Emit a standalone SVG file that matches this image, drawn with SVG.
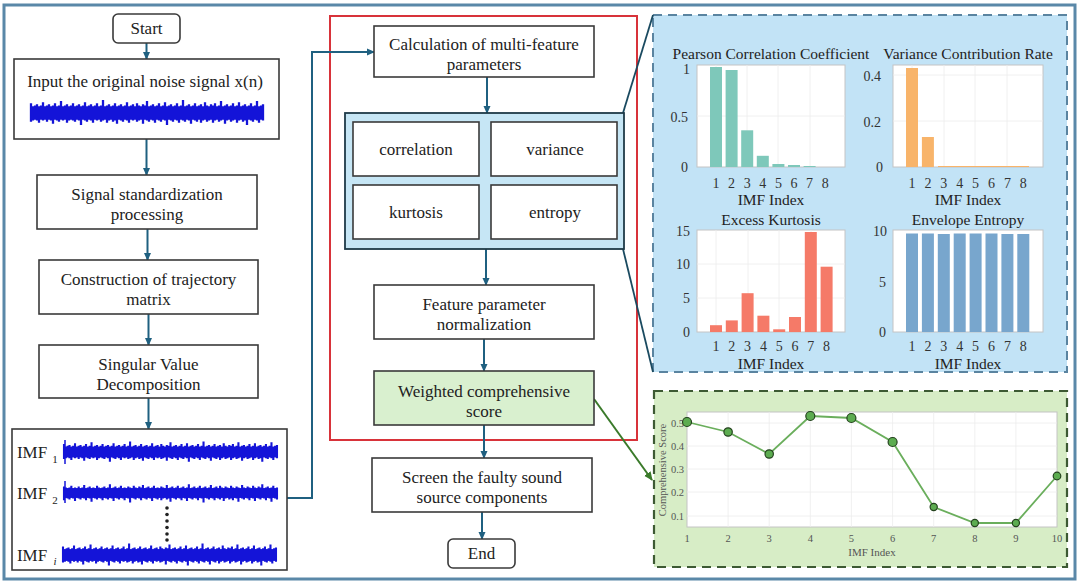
<svg xmlns="http://www.w3.org/2000/svg" width="1080" height="585" viewBox="0 0 1080 585">
<style>
.box{fill:#fff;stroke:#3a3a3a;stroke-width:1.6}
.t{font-family:"Liberation Serif","Times New Roman",serif;font-size:17px;fill:#222;text-anchor:middle}
.conn{stroke:#1f6080;stroke-width:2;fill:none}
.ct{font-family:"Liberation Serif","Times New Roman",serif;font-size:15.5px;fill:#222;text-anchor:middle}
.tk{font-family:"Liberation Serif","Times New Roman",serif;font-size:14px;fill:#333;text-anchor:end}
.tx{font-family:"Liberation Serif","Times New Roman",serif;font-size:14px;fill:#333;text-anchor:middle}
.gt{font-family:"Liberation Serif","Times New Roman",serif;font-size:10.5px;fill:#555}
.plot{fill:#fff;stroke:#c4c4c4;stroke-width:1}
.grid{stroke:#ececec;stroke-width:0.8}
.wave{stroke:#1414d8;stroke-width:2.3;fill:none}
</style>
<defs>
<marker id="arr" markerWidth="8" markerHeight="8" refX="7" refY="4" orient="auto" markerUnits="userSpaceOnUse"><path d="M0,0.5 L8,4 L0,7.5 z" fill="#1f6080"/></marker>
<marker id="garr" markerWidth="9" markerHeight="9" refX="8" refY="4.5" orient="auto" markerUnits="userSpaceOnUse"><path d="M0,0.5 L9,4.5 L0,8.5 z" fill="#3a7a2a"/></marker>
<g id="wave">
<rect x="0" y="-6" width="233" height="12" fill="#1414d8"/>
<path class="wave" d="M0 -9v17M2 -6v13M4 -7v13M6 -8v15M8 -6v15M10 -7v13M12 -10v17M14 -6v12M16 -7v15M18 -8v14M20 -6v13M22 -7v17M24 -9v15M26 -6v13M28 -7v15M30 -11v17M32 -6v13M34 -7v13M36 -8v17M38 -6v13M40 -7v13M42 -9v16M44 -6v14M46 -7v13M48 -8v15M50 -6v17M52 -7v13M54 -10v17M56 -6v14M58 -7v13M60 -8v15M62 -6v15M64 -7v13M66 -9v16M68 -6v12M70 -7v15M72 -12v19M74 -6v12M76 -7v16M78 -8v15M80 -6v12M82 -7v15M84 -9v16M86 -6v16M88 -7v13M90 -8v15M92 -6v14M94 -7v13M96 -10v17M98 -6v15M100 -7v13M102 -8v15M104 -6v12M106 -9v17M108 -7v14M110 -6v12M112 -8v18M114 -7v13M116 -11v18M118 -6v14M120 -7v13M122 -8v15M124 -6v15M126 -7v13M128 -9v16M130 -6v14M132 -7v13M134 -10v17M136 -6v17M138 -7v13M140 -8v15M142 -6v14M144 -7v13M146 -9v16M148 -6v15M150 -7v13M152 -12v19M154 -6v14M156 -7v13M158 -8v15M160 -6v16M162 -7v13M164 -9v16M166 -6v14M168 -7v13M170 -8v17M172 -6v13M174 -10v16M176 -7v15M178 -6v13M180 -8v14M182 -7v16M184 -9v16M186 -6v12M188 -7v15M190 -11v18M192 -6v12M194 -7v17M196 -8v15M198 -6v12M200 -7v15M202 -9v16M204 -6v12M206 -7v16M208 -10v17M210 -6v12M212 -7v15M214 -8v15M216 -6v17M218 -7v13M220 -9v16M222 -6v14M224 -7v13M226 -11v18M228 -6v15M230 -7v13M232 -8v15"/>
</g>
</defs>

<rect id="frame" x="4" y="5" width="1071" height="574" fill="#fff" stroke="#5a88a8" stroke-width="3"/>

<!-- red container -->
<rect id="redbox" x="330" y="16" width="307" height="424" fill="none" stroke="#d8333a" stroke-width="2"/>

<!-- right panels -->
<g id="bluepanel">
<rect x="653" y="15" width="414" height="357" fill="#c2e3f6" stroke="#5a84a0" stroke-width="2" stroke-dasharray="9,6"/>
</g>
<g id="greenpanel">
<rect x="654" y="391" width="413" height="176" fill="#d7edc6" stroke="#3d5a33" stroke-width="2.2" stroke-dasharray="9,6"/>
</g>

<!-- connectors -->
<g id="connectors">
<line class="conn" x1="146.5" y1="43" x2="146.5" y2="59" marker-end="url(#arr)"/>
<line class="conn" x1="146.5" y1="139" x2="146.5" y2="175" marker-end="url(#arr)"/>
<line class="conn" x1="147.5" y1="229" x2="147.5" y2="260" marker-end="url(#arr)"/>
<line class="conn" x1="148.5" y1="314" x2="148.5" y2="345" marker-end="url(#arr)"/>
<line class="conn" x1="148.5" y1="398" x2="148.5" y2="429" marker-end="url(#arr)"/>
<polyline class="conn" points="287,498 312,498 312,52 374,52" marker-end="url(#arr)"/>
<line class="conn" x1="487" y1="77" x2="487" y2="113" marker-end="url(#arr)"/>
<line class="conn" x1="486" y1="249" x2="486" y2="285" marker-end="url(#arr)"/>
<line class="conn" x1="484" y1="339" x2="484" y2="371" marker-end="url(#arr)"/>
<line class="conn" x1="484" y1="425" x2="484" y2="458" marker-end="url(#arr)"/>
<line class="conn" x1="482" y1="512" x2="482" y2="539" marker-end="url(#arr)"/>
<line x1="623" y1="113" x2="653" y2="15" stroke="#1a4a60" stroke-width="1.8"/>
<line x1="623" y1="249" x2="653" y2="372" stroke="#1a4a60" stroke-width="1.8"/>
<line x1="594" y1="399" x2="652" y2="480" stroke="#3a7a2a" stroke-width="2" marker-end="url(#garr)"/>
</g>

<!-- left column -->
<g id="start">
<rect x="113" y="14" width="67" height="29" rx="5" class="box"/>
<text class="t" x="146.5" y="34">Start</text>
</g>
<g id="input">
<rect x="14" y="59" width="265" height="80" class="box"/>
<text class="t" x="145" y="87">Input the original noise signal x(n)</text>
<use href="#wave" transform="translate(31,113) scale(1,1.08)"/>
</g>
<g id="standardize">
<rect x="37" y="175" width="220" height="54" class="box"/>
<text class="t" x="147" y="200">Signal standardization</text>
<text class="t" x="147" y="220">processing</text>
</g>
<g id="trajectory">
<rect x="39" y="260" width="219" height="54" class="box"/>
<text class="t" x="148.5" y="285">Construction of trajectory</text>
<text class="t" x="148.5" y="305">matrix</text>
</g>
<g id="svd">
<rect x="39" y="345" width="219" height="53" class="box"/>
<text class="t" x="148.5" y="370">Singular Value</text>
<text class="t" x="148.5" y="390">Decomposition</text>
</g>
<g id="imfs">
<rect x="12" y="429" width="275" height="141" class="box"/>
<text class="t" x="32" y="458">IMF</text><text class="t" x="55" y="463" style="font-size:11px">1</text>
<use href="#wave" transform="translate(64,452) scale(0.918,0.88)"/>
<line x1="65" y1="440" x2="65" y2="464" stroke="#1414d8" stroke-width="1.5"/>
<text class="t" x="32" y="499">IMF</text><text class="t" x="55" y="504" style="font-size:11px">2</text>
<use href="#wave" transform="translate(64,493) scale(0.918,-0.8)"/>
<line x1="65" y1="481" x2="65" y2="503" stroke="#1414d8" stroke-width="1.5"/>
<g fill="#222"><circle cx="167" cy="508" r="1.8"/><circle cx="167" cy="514.5" r="1.8"/><circle cx="167" cy="521" r="1.8"/><circle cx="167" cy="527.5" r="1.8"/><circle cx="167" cy="534" r="1.8"/><circle cx="167" cy="540" r="1.8"/></g>
<text class="t" x="32" y="561">IMF</text><text class="t" x="55" y="565" style="font-size:11px;font-style:italic">i</text>
<use href="#wave" transform="translate(63,555) scale(0.918,0.95)"/>
</g>

<!-- middle column -->
<g id="calc">
<rect x="374" y="26" width="220" height="51" class="box"/>
<text class="t" x="484" y="50">Calculation of multi-feature</text>
<text class="t" x="484" y="70">parameters</text>
</g>
<g id="features">
<rect x="345" y="113" width="279" height="136" fill="#c6e6f5" stroke="#1e3a48" stroke-width="1.8"/>
<rect x="353" y="122" width="126" height="54" class="box"/>
<text class="t" x="416" y="155">correlation</text>
<rect x="491" y="122" width="126" height="54" class="box"/>
<text class="t" x="555" y="155">variance</text>
<rect x="353" y="185" width="126" height="54" class="box"/>
<text class="t" x="416" y="218">kurtosis</text>
<rect x="491" y="185" width="126" height="54" class="box"/>
<text class="t" x="555" y="218">entropy</text>
</g>
<g id="normalize">
<rect x="374" y="285" width="220" height="54" class="box"/>
<text class="t" x="484" y="310">Feature parameter</text>
<text class="t" x="484" y="330">normalization</text>
</g>
<g id="weighted">
<rect x="374" y="371" width="220" height="54" class="box" style="fill:#d9f0cf"/>
<text class="t" x="484" y="397">Weighted comprehensive</text>
<text class="t" x="484" y="417">score</text>
</g>
<g id="screen">
<rect x="372" y="458" width="220" height="54" class="box"/>
<text class="t" x="482" y="483">Screen the faulty sound</text>
<text class="t" x="482" y="503">source components</text>
</g>
<g id="end">
<rect x="448" y="539" width="67" height="29" rx="5" class="box"/>
<text class="t" x="481.5" y="559">End</text>
</g>

<!-- chart 1: Pearson -->
<g id="chart-pearson">
<text class="ct" x="771" y="59">Pearson Correlation Coefficient</text>
<rect class="plot" x="697" y="65" width="148" height="102"/>
<g class="grid"><line x1="716" y1="65" x2="716" y2="167"/><line x1="747" y1="65" x2="747" y2="167"/><line x1="778" y1="65" x2="778" y2="167"/><line x1="810" y1="65" x2="810" y2="167"/><line x1="697" y1="116" x2="845" y2="116"/></g>
<g fill="#7ec8ba">
<rect x="710" y="67" width="12" height="100"/><rect x="725.6" y="70" width="12" height="97"/><rect x="741.2" y="130.3" width="12" height="36.7"/><rect x="756.8" y="155.8" width="12" height="11.2"/><rect x="772.4" y="164" width="12" height="3"/><rect x="788" y="165" width="12" height="2"/><rect x="803.6" y="166" width="12" height="1"/>
</g>
<text class="tk" x="690" y="74">1</text><text class="tk" x="688" y="122">0.5</text><text class="tk" x="688" y="172">0</text>
<text class="tx" x="716" y="188">1</text><text class="tx" x="731.6" y="188">2</text><text class="tx" x="747.2" y="188">3</text><text class="tx" x="762.8" y="188">4</text><text class="tx" x="778.4" y="188">5</text><text class="tx" x="794" y="188">6</text><text class="tx" x="809.6" y="188">7</text><text class="tx" x="825.2" y="188">8</text>
<text class="ct" x="771" y="205">IMF Index</text>
</g>

<!-- chart 2: Variance -->
<g id="chart-variance">
<text class="ct" x="968" y="59">Variance Contribution Rate</text>
<rect class="plot" x="893" y="65" width="150" height="102"/>
<g class="grid"><line x1="912" y1="65" x2="912" y2="167"/><line x1="944" y1="65" x2="944" y2="167"/><line x1="975" y1="65" x2="975" y2="167"/><line x1="1007" y1="65" x2="1007" y2="167"/><line x1="893" y1="121" x2="1043" y2="121"/><line x1="893" y1="75" x2="1043" y2="75"/></g>
<g fill="#f8b46a">
<rect x="906" y="68" width="12" height="99"/><rect x="921.9" y="137" width="12" height="30"/>
</g>
<g stroke="#f8b46a" stroke-width="1"><line x1="938" y1="166.5" x2="1029" y2="166.5"/></g>
<text class="tk" x="881" y="81">0.4</text><text class="tk" x="881" y="127">0.2</text><text class="tk" x="883" y="172">0</text>
<text class="tx" x="912" y="188">1</text><text class="tx" x="927.9" y="188">2</text><text class="tx" x="943.8" y="188">3</text><text class="tx" x="959.7" y="188">4</text><text class="tx" x="975.6" y="188">5</text><text class="tx" x="991.5" y="188">6</text><text class="tx" x="1007.4" y="188">7</text><text class="tx" x="1023.3" y="188">8</text>
<text class="ct" x="968" y="205">IMF Index</text>
</g>

<!-- chart 3: Kurtosis -->
<g id="chart-kurtosis">
<text class="ct" x="771" y="225">Excess Kurtosis</text>
<rect class="plot" x="697" y="230" width="148" height="102"/>
<g class="grid"><line x1="716" y1="230" x2="716" y2="332"/><line x1="748" y1="230" x2="748" y2="332"/><line x1="779" y1="230" x2="779" y2="332"/><line x1="811" y1="230" x2="811" y2="332"/><line x1="697" y1="264" x2="845" y2="264"/><line x1="697" y1="298" x2="845" y2="298"/></g>
<g fill="#f57a68">
<rect x="710" y="325.2" width="12" height="6.8"/><rect x="725.8" y="320.4" width="12" height="11.6"/><rect x="741.6" y="293.2" width="12" height="38.8"/><rect x="757.4" y="315.7" width="12" height="16.3"/><rect x="773.2" y="329.3" width="12" height="2.7"/><rect x="789" y="317" width="12" height="15"/><rect x="804.8" y="232" width="12" height="100"/><rect x="820.6" y="266.7" width="12" height="65.3"/>
</g>
<text class="tk" x="690" y="236">15</text><text class="tk" x="690" y="269">10</text><text class="tk" x="690" y="303">5</text><text class="tk" x="690" y="337">0</text>
<text class="tx" x="716" y="351">1</text><text class="tx" x="731.8" y="351">2</text><text class="tx" x="747.6" y="351">3</text><text class="tx" x="763.4" y="351">4</text><text class="tx" x="779.2" y="351">5</text><text class="tx" x="795" y="351">6</text><text class="tx" x="810.8" y="351">7</text><text class="tx" x="826.6" y="351">8</text>
<text class="ct" x="771" y="369">IMF Index</text>
</g>

<!-- chart 4: Entropy -->
<g id="chart-entropy">
<text class="ct" x="968" y="225">Envelope Entropy</text>
<rect class="plot" x="893" y="230" width="150" height="102"/>
<g fill="#78a6cd">
<rect x="906" y="233.5" width="12" height="98.5"/><rect x="921.9" y="233.5" width="12" height="98.5"/><rect x="937.8" y="234" width="12" height="98"/><rect x="953.7" y="233.5" width="12" height="98.5"/><rect x="969.6" y="233.5" width="12" height="98.5"/><rect x="985.5" y="233.5" width="12" height="98.5"/><rect x="1001.4" y="234" width="12" height="98"/><rect x="1017.3" y="234" width="12" height="98"/>
</g>
<text class="tk" x="887" y="236">10</text><text class="tk" x="886" y="287">5</text><text class="tk" x="886" y="337">0</text>
<text class="tx" x="912" y="351">1</text><text class="tx" x="927.9" y="351">2</text><text class="tx" x="943.8" y="351">3</text><text class="tx" x="959.7" y="351">4</text><text class="tx" x="975.6" y="351">5</text><text class="tx" x="991.5" y="351">6</text><text class="tx" x="1007.4" y="351">7</text><text class="tx" x="1023.3" y="351">8</text>
<text class="ct" x="968" y="369">IMF Index</text>
</g>

<!-- score chart -->
<g id="chart-score">
<rect class="plot" x="687" y="412" width="370" height="115"/>
<g class="grid">
<line x1="728.1" y1="412" x2="728.1" y2="527"/><line x1="769.2" y1="412" x2="769.2" y2="527"/><line x1="810.3" y1="412" x2="810.3" y2="527"/><line x1="851.4" y1="412" x2="851.4" y2="527"/><line x1="892.6" y1="412" x2="892.6" y2="527"/><line x1="933.7" y1="412" x2="933.7" y2="527"/><line x1="974.8" y1="412" x2="974.8" y2="527"/><line x1="1015.9" y1="412" x2="1015.9" y2="527"/>
<line x1="687" y1="423" x2="1057" y2="423"/><line x1="687" y1="446" x2="1057" y2="446"/><line x1="687" y1="469" x2="1057" y2="469"/><line x1="687" y1="492" x2="1057" y2="492"/><line x1="687" y1="516" x2="1057" y2="516"/>
</g>
<polyline points="687,422 728.1,432 769.2,454 810.3,416 851.4,418 892.6,442 933.7,507 974.8,523 1015.9,523 1057,476" fill="none" stroke="#6aae5c" stroke-width="1.8"/>
<g fill="#5cac50" stroke="#24421e" stroke-width="1.2">
<circle cx="687" cy="422" r="4.5"/><circle cx="728.1" cy="432" r="4.2"/><circle cx="769.2" cy="454" r="4.2"/><circle cx="810.3" cy="416" r="4.5"/><circle cx="851.4" cy="418" r="4.5"/><circle cx="892.6" cy="442" r="4.5"/><circle cx="933.7" cy="507" r="3.6"/><circle cx="974.8" cy="523" r="3.6"/><circle cx="1015.9" cy="523" r="3.6"/><circle cx="1057" cy="476" r="3.8"/>
</g>
<g class="gt" text-anchor="end"><text x="684" y="427">0.5</text><text x="684" y="450">0.4</text><text x="684" y="473">0.3</text><text x="684" y="496">0.2</text><text x="684" y="520">0.1</text></g>
<g class="gt" text-anchor="middle"><text x="687" y="542">1</text><text x="728.1" y="542">2</text><text x="769.2" y="542">3</text><text x="810.3" y="542">4</text><text x="851.4" y="542">5</text><text x="892.6" y="542">6</text><text x="933.7" y="542">7</text><text x="974.8" y="542">8</text><text x="1015.9" y="542">9</text><text x="1057" y="542">10</text></g>
<text class="gt" x="872" y="556" text-anchor="middle" style="font-size:11px">IMF Index</text>
<text class="gt" transform="translate(666,470) rotate(-90)" text-anchor="middle">Comprehensive Score</text>
</g>
</svg>
